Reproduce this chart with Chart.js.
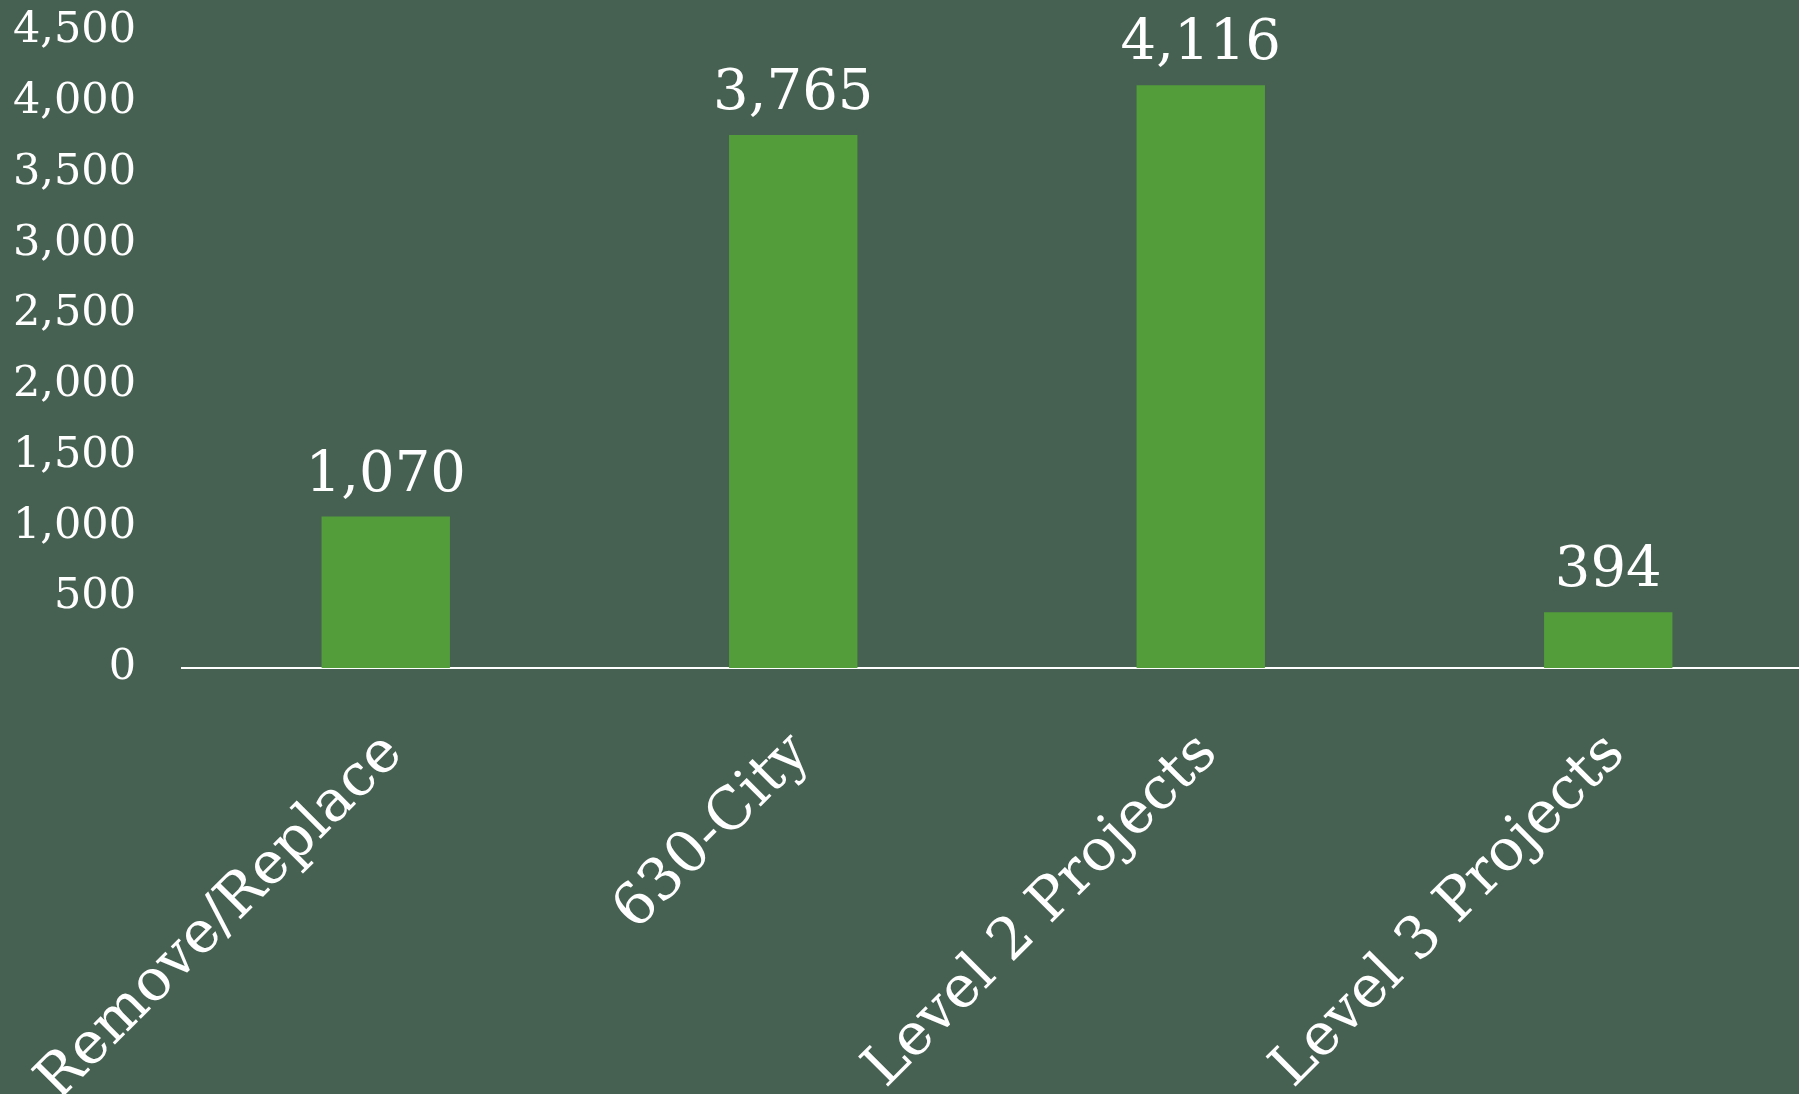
<!DOCTYPE html>
<html>
<head>
<meta charset="utf-8">
<title>Projects by category</title>
<script src="https://cdn.jsdelivr.net/npm/chart.js@4/dist/chart.umd.min.js"></script>
<style>
  html, body { margin: 0; padding: 0; background: #466152; overflow: hidden; }
  #wrap { width: 1812px; height: 1094px; }
</style>
</head>
<body>
<div id="wrap"><canvas id="chart" width="1812" height="1094"></canvas></div>
<script>
const categories = ['Remove/Replace', '630-City', 'Level 2 Projects', 'Level 3 Projects'];
const counts = [1070, 3765, 4116, 394];
const yTicks = [0, 500, 1000, 1500, 2000, 2500, 3000, 3500, 4000, 4500];

const BG = '#466152';
const BAR = '#539E3A';
const FONT = "'DejaVu Serif', serif";

// Paints the page-coloured backdrop behind everything
const backdrop = {
  id: 'backdrop',
  beforeDraw(chart) {
    const { ctx, width, height } = chart;
    ctx.save();
    ctx.fillStyle = BG;
    ctx.fillRect(0, 0, width, height);
    ctx.restore();
  }
};

// Writes each bar's value just above it
const valueLabels = {
  id: 'valueLabels',
  afterDatasetsDraw(chart) {
    const { ctx } = chart;
    const meta = chart.getDatasetMeta(0);
    ctx.save();
    ctx.fillStyle = '#ffffff';
    ctx.font = `56px ${FONT}`;
    ctx.textAlign = 'center';
    ctx.textBaseline = 'alphabetic';
    meta.data.forEach((bar, i) => {
      const v = chart.data.datasets[0].data[i];
      ctx.fillText(v.toLocaleString('en-US'), bar.x, bar.y - 26);
    });
    ctx.restore();
  }
};

new Chart(document.getElementById('chart'), {
  type: 'bar',
  data: {
    labels: categories,
    datasets: [{
      data: counts,
      backgroundColor: BAR,
      borderWidth: 0,
      categoryPercentage: 1,
      barPercentage: 0.315
    }]
  },
  options: {
    responsive: false,
    animation: false,
    devicePixelRatio: 1,
    layout: { padding: { top: 31, left: 0, right: 0, bottom: 0 } },
    plugins: {
      legend: { display: false },
      tooltip: { enabled: false }
    },
    scales: {
      x: {
        grid: { display: false, drawTicks: false },
        border: { display: true, color: '#ffffff', width: 2 },
        ticks: {
          color: '#ffffff',
          font: { family: FONT, size: 58 },
          minRotation: 45,
          maxRotation: 45,
          padding: 52,
          labelOffset: 8,
          autoSkip: false
        },
        afterFit(scale) {
          scale.height = 426;
          scale.paddingLeft = 0;
          scale.paddingRight = 0;
        }
      },
      y: {
        min: 0,
        max: 4500,
        grid: { display: false, drawTicks: false },
        border: { display: false },
        afterBuildTicks(scale) { scale.ticks = yTicks.map(v => ({ value: v })); },
        ticks: {
          color: '#ffffff',
          font: { family: FONT, size: 43 },
          padding: 46,
          callback: v => Number(v).toLocaleString('en-US')
        },
        afterFit(scale) {
          scale.width = 182;
          scale.paddingTop = 0;
          scale.paddingBottom = 0;
        }
      }
    }
  },
  plugins: [backdrop, valueLabels]
});
</script>
</body>
</html>
